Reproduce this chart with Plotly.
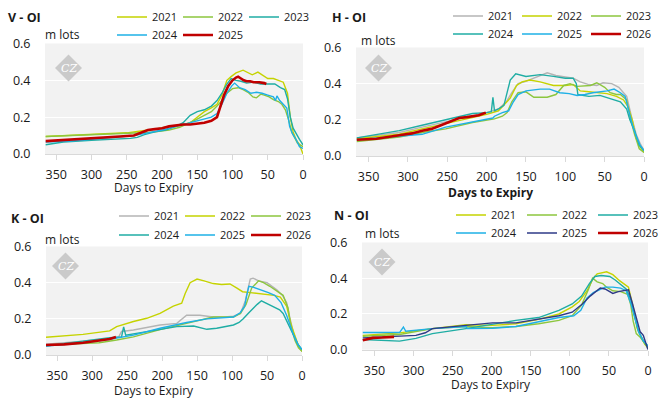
import plotly.graph_objects as go

W, H = 664, 403

# ---------------- colours ----------------
C_YG = "#c5d300"
C_GR = "#8cc63e"
C_TE = "#1fada4"
C_BL = "#1eb0e6"
C_RD = "#c00000"
C_GY = "#b4b4b4"
C_NV = "#2e3a87"

X_TICKS = [350, 300, 250, 200, 150, 100, 50, 0]
Y_TICKS = [0.0, 0.2, 0.4, 0.6]
Y_TICK_TEXT = ["0.0", "0.2", "0.4", "0.6"]

# ---------------- V - OI ----------------
V_2021_d = [365, 330, 300, 270, 250, 230, 210, 190, 175, 160, 150, 140, 130, 122, 115, 108, 102, 95, 85, 78, 72, 64, 58, 50, 42, 35, 28, 22, 18, 14, 10, 5, 2, 0]
V_2021_v = [0.095, 0.10, 0.105, 0.11, 0.115, 0.125, 0.135, 0.15, 0.155, 0.17, 0.20, 0.23, 0.25, 0.27, 0.32, 0.40, 0.42, 0.44, 0.455, 0.44, 0.43, 0.445, 0.43, 0.41, 0.41, 0.40, 0.39, 0.33, 0.20, 0.12, 0.08, 0.05, 0.02, 0.0]
V_2022_d = [365, 330, 300, 270, 250, 230, 210, 190, 175, 160, 150, 140, 130, 122, 115, 108, 100, 92, 85, 78, 71, 66, 60, 55, 48, 42, 35, 30, 25, 20, 16, 12, 8, 4, 0]
V_2022_v = [0.095, 0.10, 0.105, 0.11, 0.11, 0.115, 0.12, 0.13, 0.145, 0.17, 0.19, 0.21, 0.23, 0.26, 0.29, 0.33, 0.355, 0.36, 0.35, 0.335, 0.31, 0.305, 0.325, 0.32, 0.31, 0.295, 0.285, 0.27, 0.24, 0.18, 0.12, 0.09, 0.06, 0.05, 0.04]
V_2023_d = [365, 340, 300, 270, 245, 235, 225, 210, 195, 180, 170, 160, 150, 140, 130, 122, 115, 108, 102, 95, 88, 80, 70, 60, 50, 40, 32, 26, 22, 18, 14, 10, 5, 0]
V_2023_v = [0.05, 0.065, 0.075, 0.08, 0.085, 0.09, 0.105, 0.12, 0.13, 0.15, 0.17, 0.21, 0.23, 0.24, 0.26, 0.29, 0.33, 0.38, 0.41, 0.40, 0.395, 0.385, 0.39, 0.38, 0.38, 0.38, 0.36, 0.35, 0.30, 0.20, 0.14, 0.11, 0.08, 0.05]
V_2024_d = [365, 330, 300, 270, 240, 220, 200, 180, 165, 150, 140, 130, 122, 115, 108, 101, 97, 90, 82, 74, 66, 58, 50, 42, 39, 37, 33, 28, 23, 19, 15, 10, 5, 0]
V_2024_v = [0.065, 0.07, 0.08, 0.09, 0.10, 0.115, 0.13, 0.15, 0.165, 0.18, 0.19, 0.20, 0.22, 0.27, 0.33, 0.37, 0.385, 0.36, 0.35, 0.33, 0.335, 0.33, 0.32, 0.31, 0.29, 0.315, 0.29, 0.27, 0.25, 0.15, 0.11, 0.08, 0.04, 0.03]
V_2025_d = [365, 340, 320, 300, 280, 260, 240, 230, 220, 210, 200, 190, 180, 170, 160, 150, 140, 130, 122, 117, 112, 106, 100, 95, 92, 88, 84, 80, 75, 70, 62, 55, 52]
V_2025_v = [0.07, 0.075, 0.08, 0.085, 0.09, 0.095, 0.10, 0.115, 0.13, 0.135, 0.14, 0.15, 0.155, 0.16, 0.16, 0.165, 0.17, 0.18, 0.20, 0.26, 0.32, 0.37, 0.40, 0.415, 0.42, 0.41, 0.40, 0.395, 0.395, 0.39, 0.39, 0.385, 0.38]

# ---------------- H - OI ----------------
H_2021_d = [365, 340, 311, 282, 252, 218, 200, 185, 175, 168, 160, 152, 140, 130, 123, 112, 100, 90, 81, 70, 60, 52, 41, 32, 26, 22, 16, 10, 5, 0]
H_2021_v = [0.10, 0.115, 0.13, 0.16, 0.19, 0.22, 0.24, 0.26, 0.30, 0.35, 0.40, 0.41, 0.43, 0.45, 0.46, 0.445, 0.435, 0.43, 0.41, 0.395, 0.39, 0.405, 0.40, 0.38, 0.35, 0.33, 0.22, 0.12, 0.07, 0.03]
H_2022_d = [365, 340, 311, 282, 252, 218, 200, 185, 178, 170, 162, 155, 145, 132, 115, 100, 90, 81, 70, 60, 47, 35, 26, 20, 15, 10, 5, 0]
H_2022_v = [0.095, 0.105, 0.12, 0.15, 0.18, 0.21, 0.23, 0.25, 0.28, 0.32, 0.39, 0.41, 0.42, 0.41, 0.39, 0.39, 0.395, 0.36, 0.355, 0.35, 0.345, 0.33, 0.31, 0.27, 0.20, 0.10, 0.05, 0.02]
H_2023_d = [365, 340, 311, 282, 252, 218, 200, 190, 180, 174, 168, 160, 150, 140, 123, 112, 102, 94, 85, 75, 68, 60, 50, 43, 35, 30, 22, 18, 12, 6, 0]
H_2023_v = [0.08, 0.09, 0.105, 0.13, 0.15, 0.185, 0.20, 0.205, 0.22, 0.24, 0.30, 0.35, 0.355, 0.325, 0.325, 0.34, 0.39, 0.40, 0.385, 0.39, 0.39, 0.405, 0.38, 0.35, 0.34, 0.34, 0.31, 0.22, 0.12, 0.04, 0.02]
H_2024_d = [365, 340, 311, 282, 252, 218, 200, 194, 192, 190, 185, 178, 170, 163, 150, 140, 132, 115, 100, 90, 86, 84, 70, 56, 45, 30, 22, 18, 12, 6, 0]
H_2024_v = [0.10, 0.12, 0.14, 0.17, 0.20, 0.235, 0.24, 0.245, 0.325, 0.25, 0.26, 0.28, 0.42, 0.455, 0.44, 0.445, 0.45, 0.44, 0.43, 0.43, 0.40, 0.34, 0.33, 0.335, 0.32, 0.30, 0.26, 0.20, 0.14, 0.06, 0.03]
H_2025_d = [365, 340, 311, 282, 252, 218, 200, 192, 190, 180, 172, 166, 160, 150, 132, 120, 107, 95, 85, 75, 65, 55, 47, 38, 30, 24, 18, 14, 10, 5, 0]
H_2025_v = [0.09, 0.10, 0.11, 0.12, 0.16, 0.19, 0.205, 0.21, 0.22, 0.24, 0.25, 0.30, 0.34, 0.36, 0.37, 0.37, 0.35, 0.345, 0.335, 0.34, 0.35, 0.355, 0.36, 0.37, 0.35, 0.33, 0.22, 0.16, 0.11, 0.06, 0.03]
H_2026_d = [365, 340, 311, 295, 282, 270, 258, 252, 242, 235, 225, 218, 210, 204, 201]
H_2026_v = [0.09, 0.095, 0.115, 0.125, 0.14, 0.15, 0.17, 0.18, 0.195, 0.21, 0.215, 0.22, 0.225, 0.235, 0.24]

# ---------------- K - OI ----------------
K_2021_d = [366, 313, 275, 262, 258, 241, 203, 179, 165, 146, 127, 110, 98, 88, 81, 74, 70, 62, 50, 36, 28, 22, 17, 12, 6, 0]
K_2021_v = [0.06, 0.076, 0.092, 0.10, 0.13, 0.138, 0.166, 0.175, 0.22, 0.22, 0.21, 0.21, 0.215, 0.23, 0.30, 0.42, 0.425, 0.41, 0.40, 0.36, 0.33, 0.29, 0.20, 0.12, 0.06, 0.02]
K_2022_d = [366, 313, 275, 265, 241, 222, 203, 184, 172, 167, 160, 150, 140, 127, 115, 103, 93, 85, 74, 65, 56, 40, 31, 22, 15, 10, 5, 0]
K_2022_v = [0.098, 0.114, 0.133, 0.157, 0.185, 0.203, 0.23, 0.27, 0.286, 0.34, 0.40, 0.42, 0.41, 0.395, 0.39, 0.393, 0.37, 0.35, 0.345, 0.34, 0.335, 0.33, 0.32, 0.27, 0.16, 0.10, 0.05, 0.02]
K_2023_d = [366, 290, 265, 241, 203, 165, 127, 98, 88, 80, 72, 62, 55, 46, 35, 27, 20, 16, 10, 5, 0]
K_2023_v = [0.055, 0.068, 0.083, 0.10, 0.14, 0.175, 0.21, 0.21, 0.23, 0.28, 0.37, 0.41, 0.40, 0.38, 0.35, 0.33, 0.26, 0.16, 0.08, 0.04, 0.02]
K_2024_d = [366, 313, 275, 258, 255, 252, 217, 179, 155, 136, 122, 110, 98, 90, 84, 77, 70, 64, 58, 50, 41, 32, 27, 20, 13, 6, 0]
K_2024_v = [0.05, 0.077, 0.096, 0.10, 0.155, 0.11, 0.133, 0.157, 0.16, 0.142, 0.148, 0.155, 0.166, 0.18, 0.20, 0.23, 0.26, 0.28, 0.30, 0.285, 0.27, 0.25, 0.23, 0.17, 0.11, 0.06, 0.03]
K_2025_d = [366, 313, 275, 241, 203, 165, 136, 110, 98, 88, 82, 79, 76, 70, 58, 48, 39, 30, 22, 17, 12, 6, 0]
K_2025_v = [0.05, 0.068, 0.087, 0.11, 0.148, 0.18, 0.20, 0.205, 0.21, 0.235, 0.27, 0.33, 0.38, 0.375, 0.36, 0.345, 0.33, 0.29, 0.22, 0.16, 0.11, 0.06, 0.03]
K_2026_d = [366, 340, 313, 289, 275, 266]
K_2026_v = [0.055, 0.059, 0.068, 0.079, 0.088, 0.10]

# ---------------- N - OI ----------------
N_2021_d = [365, 318, 276, 233, 199, 169, 140, 114, 97, 88, 78, 70, 65, 58, 53, 45, 36, 25, 19, 14, 8, 4, 0]
N_2021_v = [0.08, 0.094, 0.118, 0.14, 0.136, 0.145, 0.17, 0.20, 0.24, 0.27, 0.33, 0.40, 0.425, 0.43, 0.436, 0.42, 0.385, 0.35, 0.24, 0.12, 0.06, 0.03, 0.01]
N_2022_d = [365, 318, 276, 233, 199, 169, 140, 114, 97, 85, 76, 71, 65, 58, 53, 45, 35, 26, 22, 19, 15, 10, 5, 0]
N_2022_v = [0.075, 0.085, 0.118, 0.13, 0.123, 0.13, 0.145, 0.164, 0.19, 0.25, 0.34, 0.40, 0.38, 0.37, 0.35, 0.33, 0.325, 0.31, 0.25, 0.16, 0.09, 0.07, 0.04, 0.01]
N_2023_d = [365, 318, 297, 276, 233, 199, 169, 140, 114, 97, 85, 75, 68, 60, 49, 42, 36, 28, 22, 18, 12, 6, 0]
N_2023_v = [0.057, 0.048, 0.063, 0.09, 0.118, 0.142, 0.164, 0.18, 0.22, 0.256, 0.30, 0.37, 0.41, 0.415, 0.41, 0.39, 0.37, 0.34, 0.28, 0.20, 0.10, 0.05, 0.02]
N_2024_d = [365, 318, 313, 310, 276, 233, 231, 199, 169, 140, 114, 95, 86, 78, 70, 65, 55, 45, 35, 28, 22, 18, 12, 6, 0]
N_2024_v = [0.096, 0.096, 0.127, 0.103, 0.118, 0.13, 0.118, 0.12, 0.13, 0.155, 0.18, 0.19, 0.22, 0.29, 0.32, 0.33, 0.35, 0.35, 0.345, 0.33, 0.26, 0.20, 0.10, 0.05, 0.02]
N_2025_d = [365, 297, 285, 280, 276, 233, 199, 169, 140, 114, 97, 84, 74, 66, 61, 55, 50, 45, 38, 32, 25, 20, 14, 10, 6, 3, 0]
N_2025_v = [0.066, 0.08, 0.095, 0.109, 0.118, 0.136, 0.15, 0.15, 0.17, 0.19, 0.21, 0.256, 0.30, 0.33, 0.345, 0.34, 0.325, 0.315, 0.325, 0.33, 0.335, 0.26, 0.17, 0.10, 0.08, 0.04, 0.0]
N_2026_d = [365, 352, 340, 325]
N_2026_v = [0.053, 0.066, 0.068, 0.072]

# ---------------- layout helpers ----------------
def PX(x):
    return x / W

def PY(y):
    return 1 - y / H

# panel boxes in pixels: left, right, top, bottom
BOX = {
    "V": (45, 303, 43.5, 154),
    "H": (356, 644, 47.5, 156),
    "K": (46, 302, 246.5, 355),
    "N": (362, 648, 242.5, 349.7),
}

panels = [
    ("V", "x", "y", "V - OI", [
        ("2021", V_2021_d, V_2021_v, C_YG),
        ("2022", V_2022_d, V_2022_v, C_GR),
        ("2023", V_2023_d, V_2023_v, C_TE),
        ("2024", V_2024_d, V_2024_v, C_BL),
        ("2025", V_2025_d, V_2025_v, C_RD),
    ]),
    ("H", "x2", "y2", "H - OI", [
        ("2021", H_2021_d, H_2021_v, C_GY),
        ("2022", H_2022_d, H_2022_v, C_YG),
        ("2023", H_2023_d, H_2023_v, C_GR),
        ("2024", H_2024_d, H_2024_v, C_TE),
        ("2025", H_2025_d, H_2025_v, C_BL),
        ("2026", H_2026_d, H_2026_v, C_RD),
    ]),
    ("K", "x3", "y3", "K - OI", [
        ("2021", K_2021_d, K_2021_v, C_GY),
        ("2022", K_2022_d, K_2022_v, C_YG),
        ("2023", K_2023_d, K_2023_v, C_GR),
        ("2024", K_2024_d, K_2024_v, C_TE),
        ("2025", K_2025_d, K_2025_v, C_BL),
        ("2026", K_2026_d, K_2026_v, C_RD),
    ]),
    ("N", "x4", "y4", "N - OI", [
        ("2021", N_2021_d, N_2021_v, C_YG),
        ("2022", N_2022_d, N_2022_v, C_GR),
        ("2023", N_2023_d, N_2023_v, C_TE),
        ("2024", N_2024_d, N_2024_v, C_BL),
        ("2025", N_2025_d, N_2025_v, C_NV),
        ("2026", N_2026_d, N_2026_v, C_RD),
    ]),
]

FONT = "Open Sans, Noto Sans, sans-serif"
TXT = "#1a1a1a"

# legend positions: (first line start px, row1 centre y px, row2 centre y px, item pitch px)
LEG = {
    "V": (118, 17, 35, 66),
    "H": (454, 16, 34, 69),
    "K": (120, 216, 235, 66),
    "N": (457, 215, 233, 71),
}

fig = go.Figure()
legend_ids = {}
n_leg = 0
for key, xa, ya, title, series in panels:
    for j, (name, d, v, col) in enumerate(series):
        row = j // 3
        if (key, row) not in legend_ids:
            n_leg += 1
            legend_ids[(key, row)] = "legend" if n_leg == 1 else "legend%d" % n_leg
        fig.add_trace(go.Scatter(
            x=d, y=v, mode="lines", name=name,
            line=dict(color=col, width=2.6 if col == C_RD else 1.4),
            xaxis=xa, yaxis=ya, legend=legend_ids[(key, row)], hoverinfo="skip",
        ))

layout = dict(
    width=W, height=H, autosize=False,
    margin=dict(l=0, r=0, t=0, b=0, autoexpand=False),
    paper_bgcolor="white", plot_bgcolor="#f2f2f2",
    font=dict(family=FONT, size=12, color=TXT),
    showlegend=True,
)

annotations = []
shapes = []
for i, (key, xa, ya, title, series) in enumerate(panels):
    l, r, t, b = BOX[key]
    sfx = "" if i == 0 else str(i + 1)
    layout["xaxis" + sfx] = dict(
        domain=[PX(l), PX(r)], range=[366, 0], anchor=ya,
        tickvals=X_TICKS, ticks="outside", ticklen=5, tickcolor="#d9d9d9",
        showgrid=False, zeroline=False, showline=True, linecolor="#d9d9d9", linewidth=1,
        tickfont=dict(size=12.5, color=TXT), ticklabelstandoff=4,
        fixedrange=True, automargin=False,
    )
    layout["yaxis" + sfx] = dict(
        domain=[PY(b), PY(t)], range=[0, 0.6], anchor=xa,
        tickvals=Y_TICKS, ticktext=Y_TICK_TEXT,
        ticks="outside", tickcolor="rgba(0,0,0,0)", ticklen=11,
        showgrid=True, gridcolor="white", gridwidth=1.3, zeroline=False,
        showline=False, tickfont=dict(size=12.5, color=TXT),
        fixedrange=True, automargin=False,
    )
    lx, ly1, ly2, pitch = LEG[key]
    for row, ly in ((0, ly1), (1, ly2)):
        layout[legend_ids[(key, row)]] = dict(
            orientation="h", x=PX(lx - 6), xanchor="left",
            y=PY(ly), yanchor="middle",
            xref="container", yref="container",
            bgcolor="rgba(0,0,0,0)", font=dict(size=11, color=TXT),
            entrywidth=pitch - 45, entrywidthmode="pixels", itemwidth=30,
            tracegroupgap=0, traceorder="normal", borderwidth=0,
        )
    # titles
    tx = {"V": 6, "H": 330, "K": 9, "N": 332}[key]
    ty = {"V": 18, "H": 18, "K": 218, "N": 216}[key]
    annotations.append(dict(
        text="<b>%s</b>" % title, x=PX(tx), y=PY(ty), xref="paper", yref="paper",
        xanchor="left", yanchor="middle", showarrow=False,
        font=dict(size=12.5, color=TXT),
    ))
    mx = {"V": 43, "H": 359, "K": 43, "N": 363}[key]
    my = {"V": 34, "H": 40, "K": 239, "N": 233}[key]
    annotations.append(dict(
        text="m lots", x=PX(mx), y=PY(my), xref="paper", yref="paper",
        xanchor="left", yanchor="middle", showarrow=False,
        font=dict(size=12, color=TXT),
    ))
    dy = {"V": 188, "H": 192, "K": 390, "N": 384}[key]
    dx = {"V": 154, "H": 490, "K": 153.5, "N": 491}[key]
    dtext = "<b>Days to Expiry</b>" if key == "H" else "Days to Expiry"
    annotations.append(dict(
        text=dtext, x=PX(dx), y=PY(dy), xref="paper", yref="paper",
        xanchor="center", yanchor="middle", showarrow=False,
        font=dict(size=12, color=TXT),
    ))
    # watermark diamond
    cx, cy = {"V": (68.5, 68), "H": (378.5, 68), "K": (65.5, 266), "N": (382, 262)}[key]
    hs = 13.5
    path = "M %f,%f L %f,%f L %f,%f L %f,%f Z" % (
        PX(cx), PY(cy - hs), PX(cx + hs), PY(cy), PX(cx), PY(cy + hs), PX(cx - hs), PY(cy))
    shapes.append(dict(type="path", path=path, xref="paper", yref="paper",
                       fillcolor="#cacaca", line=dict(width=0), layer="above"))
    annotations.append(dict(
        text="<i>CZ</i>", x=PX(cx), y=PY(cy), xref="paper", yref="paper",
        xanchor="center", yanchor="middle", showarrow=False,
        font=dict(size=11, color="white", family="DejaVu Serif, serif"),
    ))

layout["annotations"] = annotations
layout["shapes"] = shapes
fig.update_layout(**layout)
fig.write_html(
    "out.html",
    config={"displayModeBar": False},
    post_script="document.body.style.margin='0px';document.body.style.padding='0px';",
)
